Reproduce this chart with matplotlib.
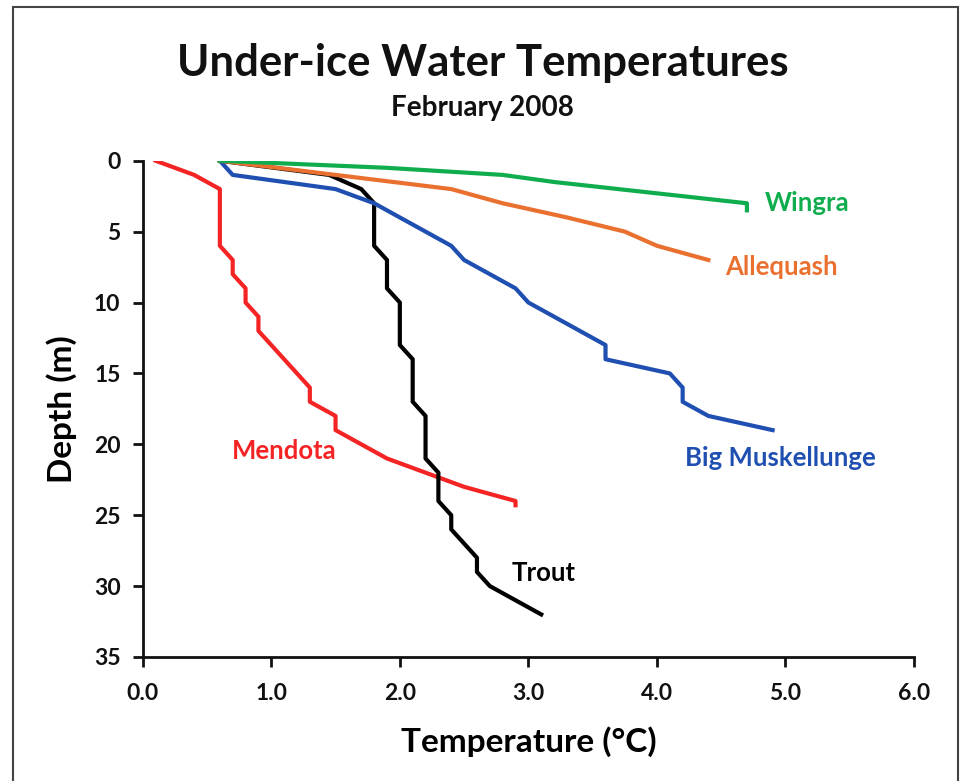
import matplotlib
matplotlib.use("Agg")
import matplotlib.pyplot as plt
from matplotlib.patches import Rectangle

plt.rcParams['font.family'] = ['Lato', 'DejaVu Sans']

# ---- data ----
wingra_depth = [0, 0.5, 1, 1.5, 2, 2.5, 3, 3.5]
wingra_temp = [0.6, 1.9, 2.8, 3.2, 3.7, 4.2, 4.7, 4.7]

allequash_depth = [0, 1, 2, 3, 4, 5, 6, 7]
allequash_temp = [0.6, 1.5, 2.4, 2.8, 3.3, 3.75, 4.0, 4.4]

bigmusk_depth = list(range(0, 20))
bigmusk_temp = [0.6, 0.7, 1.5, 1.8, 2.0, 2.2, 2.4, 2.5, 2.7, 2.9,
                3.0, 3.2, 3.4, 3.6, 3.6, 4.1, 4.2, 4.2, 4.4, 4.9]

mendota_depth = list(range(0, 25)) + [24.3]
mendota_temp = [0.1, 0.4, 0.6, 0.6, 0.6, 0.6, 0.6, 0.7, 0.7, 0.8,
                0.8, 0.9, 0.9, 1.0, 1.1, 1.2, 1.3, 1.3, 1.5, 1.5,
                1.7, 1.9, 2.2, 2.5, 2.9, 2.9]

trout_depth = list(range(0, 33))
trout_temp = [0.6, 1.45, 1.7, 1.8, 1.8, 1.8, 1.8, 1.9, 1.9, 1.9,
              2.0, 2.0, 2.0, 2.0, 2.1, 2.1, 2.1, 2.1, 2.2, 2.2,
              2.2, 2.2, 2.3, 2.3, 2.3, 2.4, 2.4, 2.5, 2.6, 2.6,
              2.7, 2.9, 3.1]

x_ticks = [0, 1, 2, 3, 4, 5, 6]
x_ticklabels = ["0.0", "1.0", "2.0", "3.0", "4.0", "5.0", "6.0"]
y_ticks = [0, 5, 10, 15, 20, 25, 30, 35]

# ---- figure ----
fig = plt.figure(figsize=(9.65, 7.81), dpi=100)
fig.patch.set_facecolor('white')
ax = fig.add_axes([0.1479, 0.1588, 0.9472 - 0.1479, 0.7942 - 0.1588])

lw = 3.0
green = '#10AD4E'
orange = '#EA7030'
blue = '#1F4FB0'
red = '#F52424'
black = '#000000'

ax.plot(mendota_temp, mendota_depth, color=red, lw=lw, solid_joinstyle='round', zorder=2)
ax.plot(trout_temp, trout_depth, color=black, lw=lw, solid_joinstyle='round', zorder=3)
ax.plot(bigmusk_temp, bigmusk_depth, color=blue, lw=lw, solid_joinstyle='round', zorder=4)
ax.plot(allequash_temp, allequash_depth, color=orange, lw=lw, solid_joinstyle='round', zorder=5)
ax.plot(wingra_temp, wingra_depth, color=green, lw=lw, solid_joinstyle='round', zorder=6)

ax.set_xlim(0, 6)
ax.set_ylim(35, 0)
ax.set_xticks(x_ticks)
ax.set_xticklabels(x_ticklabels)
ax.set_yticks(y_ticks)

for s in ['top', 'right']:
    ax.spines[s].set_visible(False)
for s in ['left', 'bottom']:
    ax.spines[s].set_linewidth(2)
    ax.spines[s].set_color('#111111')
ax.tick_params(axis='both', direction='out', length=7, width=2, color='#111111',
               labelsize=16.5)
ax.tick_params(axis='x', pad=12)
ax.tick_params(axis='y', pad=9)
for lab in ax.get_xticklabels() + ax.get_yticklabels():
    lab.set_fontweight('bold')
    lab.set_color('#111111')

ax.set_xlabel("Temperature (°C)", fontsize=24, fontweight='bold', labelpad=16)
ax.set_ylabel("Depth (m)", fontsize=24, fontweight='bold', labelpad=12)

# series labels
lab_fs = 18.5
ax.text(4.84, 3.0, "Wingra", color=green, fontsize=lab_fs, fontweight='bold', va='center', ha='left')
ax.text(4.53, 7.5, "Allequash", color=orange, fontsize=lab_fs, fontweight='bold', va='center', ha='left')
ax.text(4.22, 21.0, "Big Muskellunge", color=blue, fontsize=lab_fs, fontweight='bold', va='center', ha='left')
ax.text(0.69, 20.5, "Mendota", color=red, fontsize=lab_fs, fontweight='bold', va='center', ha='left')
ax.text(2.87, 29.1, "Trout", color=black, fontsize=lab_fs, fontweight='bold', va='center', ha='left')

# titles
fig.text(0.5, 1 - 63 / 781, "Under-ice Water Temperatures", ha='center', va='center',
         fontsize=31.5, fontweight='bold', color='#111111')
fig.text(0.5, 1 - 108 / 781, "February 2008", ha='center', va='center',
         fontsize=20, fontweight='bold', color='#111111')

# outer frame
fig.patches.append(Rectangle((13 / 965, -0.02), (958 - 13) / 965, 1 - 7 / 781 + 0.02,
                             transform=fig.transFigure, fill=False,
                             edgecolor='#444444', lw=1.5))

fig.savefig("out.png", dpi=100, facecolor='white')
